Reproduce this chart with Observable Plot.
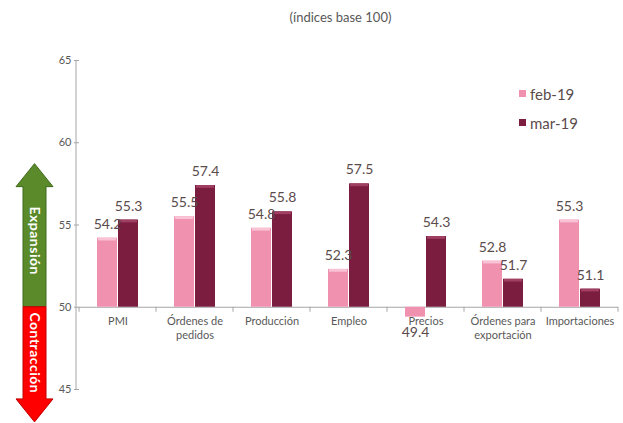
<!DOCTYPE html>
<html><head><meta charset="utf-8">
<script src="https://cdn.jsdelivr.net/npm/d3@7"></script>
<script src="https://cdn.jsdelivr.net/npm/@observablehq/plot@0.6"></script>
<style>
body{margin:0;background:#fff;font-family:Lato,"Open Sans",sans-serif;}
#wrap{position:relative;width:623px;height:423px;overflow:hidden;}
#title{height:30px;line-height:34px;text-align:center;margin-left:58px;font-size:13px;color:#595959;}
#legend{position:absolute;left:519px;top:79px;font-size:15px;color:#5b4b4b;}
.item{display:flex;align-items:center;height:29px}
.sw{width:7px;height:7px;margin-right:4px}
</style></head><body>
<div id="wrap"><div id="title">(índices base 100)</div><div id="chart"></div><div id="legend"></div></div>
<script>
const categories = ["PMI","Órdenes de\npedidos","Producción","Empleo","Precios","Órdenes para\nexportación","Importaciones"];
const series = ["feb-19","mar-19"];
const feb19 = [54.2,55.5,54.8,52.3,49.4,52.8,55.3];
const mar19 = [55.3,57.4,55.8,57.5,54.3,51.7,51.1];
const yTicks = [45,50,55,60,65];
const colors = ["#f091b0","#7b1d3f"];
const highlights = ["#f9c3d5","#a13f62"];
const baseline = 50;

const data = categories.flatMap((c,i)=>[
  {cat:c, serie:series[0], value:feb19[i]},
  {cat:c, serie:series[1], value:mar19[i]}
]);
const pos = data.filter(d=>d.value>=baseline);
const neg = data.filter(d=>d.value<baseline);
const hl = d => highlights[series.indexOf(d.serie)];

const plot = Plot.plot({
  width:623, height:393, marginTop:30, marginBottom:34, marginLeft:76, marginRight:3,
  style:{fontFamily:"Lato, 'Open Sans', sans-serif", fontSize:"11px", color:"#595959", background:"transparent", overflow:"visible"},
  fx:{domain:categories, paddingInner:0, paddingOuter:0, axis:null, label:null},
  x:{domain:series, paddingInner:0.05, paddingOuter:0.78, axis:null},
  y:{domain:[45,65], axis:null},
  color:{domain:series, range:colors},
  marks:[
    Plot.axisY(yTicks,{tickSize:5, tickPadding:3, fontSize:11, stroke:"#a6a6a6", fill:"#595959", label:null}),
    Plot.ruleY([baseline],{stroke:"#a6a6a6"}),
    Plot.barY(data,{fx:"cat", x:"serie", y1:baseline, y2:"value", fill:"serie"}),
    Plot.barY(pos,{fx:"cat", x:"serie", y1:d=>d.value, y2:d=>d.value-0.17, fill:hl, insetLeft:1, insetRight:1}),
    Plot.text(pos,{fx:"cat", x:"serie", y:"value", text:d=>d.value.toFixed(1), dy:-14, fontSize:14, fill:"#5b4b4b"}),
    Plot.text(neg,{fx:"cat", x:"serie", y:"value", text:d=>d.value.toFixed(1), dy:15, fontSize:14, fill:"#5b4b4b"}),
    Plot.text(categories,{fx:d=>d, y:()=>baseline, text:d=>d, dy:8, lineAnchor:"top", fontSize:11, fill:"#595959", lineHeight:1.25})
  ]
});
document.getElementById("chart").appendChild(plot);

const svg = d3.select(plot);
const y = plot.scale("y");
const fx = plot.scale("fx");
const x0 = 76;
// y axis line
svg.append("line").attr("x1",x0).attr("x2",x0).attr("y1",y.apply(65)).attr("y2",y.apply(45)).attr("stroke","#a6a6a6");
// category boundary ticks
const bounds = categories.map(c=>fx.apply(c)).concat([fx.apply(categories[categories.length-1])+fx.bandwidth]);
bounds.forEach(b=>{
  svg.append("line").attr("x1",b).attr("x2",b).attr("y1",y.apply(baseline)).attr("y2",y.apply(baseline)+5).attr("stroke","#a6a6a6");
});
// arrows
function arrow(from,to,fill,stroke,label){
  const ya=y.apply(from), yt=y.apply(to);
  const dir = yt<ya ? -1 : 1;
  const head = 23;
  const yb = yt - dir*head;
  const sx1=23, sx2=46, hx1=16, hx2=53, cx=(sx1+sx2)/2;
  const p = `M${sx1},${ya} L${sx1},${yb} L${hx1},${yb} L${cx},${yt} L${hx2},${yb} L${sx2},${yb} L${sx2},${ya} Z`;
  svg.append("path").attr("d",p).attr("fill",fill).attr("stroke",stroke).attr("stroke-width",1);
  const my=(ya+yb)/2 + (dir<0?-6:0);
  svg.append("text").attr("transform",`translate(${cx},${my}) rotate(90)`)
    .attr("text-anchor","middle").attr("dy","0.35em")
    .attr("fill","#fff").attr("font-weight","bold").attr("font-size",14)
    .attr("font-family","Lato, sans-serif").attr("letter-spacing","0.5px").text(label);
}
arrow(baseline,58.7,"#5a8a2a","#3e6a1a","Expansión");
arrow(baseline,43.0,"#ff0000","#c00000","Contracción");

// legend
const lg = d3.select("#legend");
series.forEach((s,i)=>{
  const it = lg.append("div").attr("class","item");
  it.append("div").attr("class","sw").style("background",colors[i]);
  it.append("span").text(s);
});
</script>
</body></html>
